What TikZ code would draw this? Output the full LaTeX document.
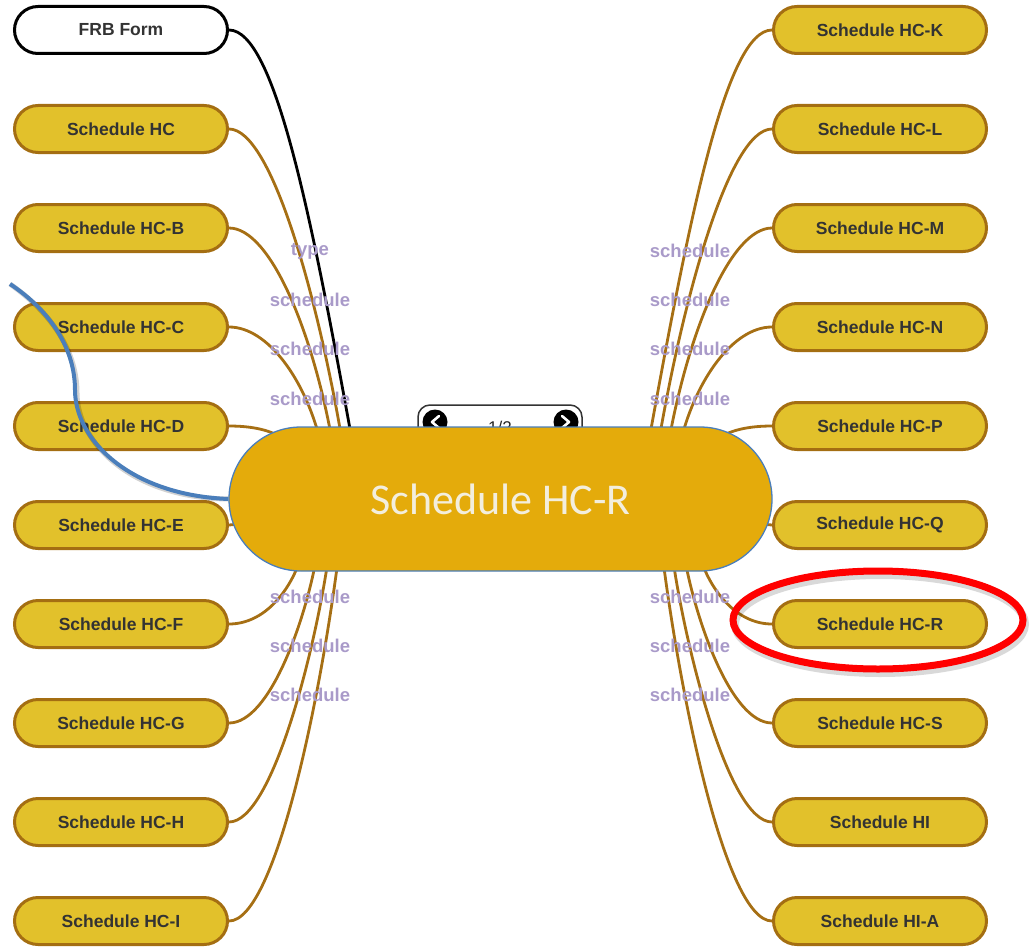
\documentclass[tikz,border=0pt]{standalone}
\usepackage{fontspec}
\setmainfont{Liberation Sans}
\newfontfamily\calibface{Carlito}
\usetikzlibrary{calc}
\definecolor{leaffill}{HTML}{E2C12B}
\definecolor{leafline}{HTML}{A46E12}
\definecolor{edgebrown}{HTML}{A66F14}
\definecolor{lblpurple}{HTML}{A99AC9}
\definecolor{corefill}{HTML}{E4AB0B}
\definecolor{coreline}{HTML}{4A7EBB}
\definecolor{coretext}{HTML}{F3EEDD}
\definecolor{textgray}{HTML}{333333}
\definecolor{markred}{HTML}{FF0000}
\tikzset{
  leaf/.style={draw=leafline, fill=leaffill, line width=3pt, rounded corners=23.5pt,
    minimum width=213pt, minimum height=47pt, inner sep=0pt, text=textgray,
    font=\fontsize{17.5}{20}\selectfont\bfseries},
  plainleaf/.style={leaf, draw=black, fill=white},
  core/.style={draw=coreline, fill=corefill, line width=1.3pt, rounded corners=72pt,
    minimum width=543pt, minimum height=144pt, inner sep=0pt, text=coretext,
    font=\calibface\fontsize{44}{50}\selectfont},
  link/.style={draw=edgebrown, line width=2.8pt},
  typelink/.style={draw=black, line width=2.8pt},
  rel/.style={text=lblpurple, font=\fontsize{18.5}{20}\selectfont\bfseries, inner sep=0pt},
  pager/.style={draw=black!80, fill=white, line width=1.5pt, rounded corners=12pt,
    minimum width=164pt, minimum height=40pt, inner sep=0pt},
  navbtn/.style={circle, fill=black, minimum size=25pt, inner sep=0pt},
}
\begin{document}
\begin{tikzpicture}[x=1pt,y=-1pt]
\useasboundingbox (0,0) rectangle (1033,947);

% ---------- leaf nodes, left column ----------
\node[plainleaf] (frb) at (121,30)  {FRB Form};
\node[leaf] (hc)  at (121,129) {Schedule HC};
\node[leaf] (hcb) at (121,228) {Schedule HC-B};
\node[leaf] (hcc) at (121,327) {Schedule HC-C};
\node[leaf] (hcd) at (121,426) {Schedule HC-D};
\node[leaf] (hce) at (121,525) {Schedule HC-E};
\node[leaf] (hcf) at (121,624) {Schedule HC-F};
\node[leaf] (hcg) at (121,723) {Schedule HC-G};
\node[leaf] (hch) at (121,822) {Schedule HC-H};
\node[leaf] (hci) at (121,921) {Schedule HC-I};

% ---------- leaf nodes, right column ----------
\node[leaf] (hck) at (880,30)  {Schedule HC-K};
\node[leaf] (hcl) at (880,129) {Schedule HC-L};
\node[leaf] (hcm) at (880,228) {Schedule HC-M};
\node[leaf] (hcn) at (880,327) {Schedule HC-N};
\node[leaf] (hcp) at (880,426) {Schedule HC-P};
\node[leaf] (hcq) at (880,525) {Schedule HC-Q};
\node[leaf] (hcr) at (880,624) {Schedule HC-R};
\node[leaf] (hcs) at (880,723) {Schedule HC-S};
\node[leaf] (hi)  at (880,822) {Schedule HI};
\node[leaf] (hia) at (880,921) {Schedule HI-A};

% ---------- ends of the links, hidden under the central node ----------
\coordinate (inFRB) at (352,440);
\coordinate (inHC)  at (342,440);
\coordinate (inHCB) at (332,440);
\coordinate (inHCC) at (320,440);
\coordinate (inHCD) at (285,440);
\coordinate (inHCE) at (262,522);
\coordinate (inHCF) at (300,560);
\coordinate (inHCG) at (316,560);
\coordinate (inHCH) at (328,560);
\coordinate (inHCI) at (338,560);
\coordinate (inHCK) at (649,440);
\coordinate (inHCL) at (659,440);
\coordinate (inHCM) at (669,440);
\coordinate (inHCN) at (681,440);
\coordinate (inHCP) at (716,440);
\coordinate (inHCQ) at (739,522);
\coordinate (inHCR) at (701,560);
\coordinate (inHCS) at (685,560);
\coordinate (inHI)  at (673,560);
\coordinate (inHIA) at (663,560);

% ---------- links, left ----------
\draw[typelink] (frb.east) .. controls (275,30) and (312,220) .. (inFRB);
\draw[link] (hc.east)  .. controls (272,129) and (318,300) .. (inHC);
\draw[link] (hcb.east) .. controls (270,228) and (312,330) .. (inHCB);
\draw[link] (hcc.east) .. controls (268,327) and (305,380) .. (inHCC);
\draw[link] (hcd.east) .. controls (252,426) and (272,430) .. (inHCD);
\draw[link] (hce.east) -- (inHCE);
\draw[link] (hcf.east) .. controls (265,624) and (290,590) .. (inHCF);
\draw[link] (hcg.east) .. controls (270,723) and (305,620) .. (inHCG);
\draw[link] (hch.east) .. controls (272,822) and (315,650) .. (inHCH);
\draw[link] (hci.east) .. controls (275,921) and (320,700) .. (inHCI);
% ---------- links, right ----------
\draw[link] (hck.west) .. controls (726,30) and (689,220) .. (inHCK);
\draw[link] (hcl.west) .. controls (729,129) and (683,300) .. (inHCL);
\draw[link] (hcm.west) .. controls (731,228) and (689,330) .. (inHCM);
\draw[link] (hcn.west) .. controls (733,327) and (696,380) .. (inHCN);
\draw[link] (hcp.west) .. controls (749,426) and (729,430) .. (inHCP);
\draw[link] (hcq.west) -- (inHCQ);
\draw[link] (hcr.west) .. controls (736,624) and (711,590) .. (inHCR);
\draw[link] (hcs.west) .. controls (731,723) and (696,620) .. (inHCS);
\draw[link] (hi.west)  .. controls (729,822) and (686,650) .. (inHI);
\draw[link] (hia.west) .. controls (726,921) and (681,700) .. (inHIA);

% ---------- pager above the central node ----------
\node[pager] (pg) at (500,425) {};
\node[navbtn] (prev) at (435,422) {};
\node[navbtn] (next) at (566,422) {};
\draw[white, line width=2.6pt, line cap=round, line join=round]
  ($(prev)+(4,-6)$) -- ($(prev)+(-3,0)$) -- ($(prev)+(4,6)$);
\draw[white, line width=2.6pt, line cap=round, line join=round]
  ($(next)+(-4,-6)$) -- ($(next)+(3,0)$) -- ($(next)+(-4,6)$);
\node[font=\fontsize{17}{19}\selectfont, text=black!85] (pgtext) at (500,427) {1/2};

% ---------- central node ----------
\node[core] (core) at (500.5,499) {Schedule HC-R};

% ---------- relation labels ----------
\node[rel] (l1)  at (310,251) {type};
\node[rel] (l2)  at (310,300) {schedule};
\node[rel] (l3)  at (310,349) {schedule};
\node[rel] (l4)  at (310,399) {schedule};
\node[rel] (l5)  at (310,597) {schedule};
\node[rel] (l6)  at (310,646) {schedule};
\node[rel] (l7)  at (310,695) {schedule};
\node[rel] (r1)  at (690,251) {schedule};
\node[rel] (r2)  at (690,300) {schedule};
\node[rel] (r3)  at (690,349) {schedule};
\node[rel] (r4)  at (690,399) {schedule};
\node[rel] (r5)  at (690,597) {schedule};
\node[rel] (r6)  at (690,646) {schedule};
\node[rel] (r7)  at (690,695) {schedule};

% ---------- blue callout stroke into the central node ----------
\coordinate (callstart) at (10,284);
\draw[black, opacity=0.18, line width=5pt, shift={(2,3)}]
  (callstart) .. controls (52,312) and (75,350) .. (75,390)
  .. controls (75,440) and (130,495) .. (core.west);
\draw[coreline, line width=4pt]
  (callstart) .. controls (52,312) and (75,350) .. (75,390)
  .. controls (75,440) and (130,495) .. (core.west);

% ---------- red highlight ring round Schedule HC-R ----------
\draw[black, opacity=0.15, line width=8pt] (880,624) ellipse [x radius=145, y radius=49];
\draw[markred, line width=7pt] (878,620) ellipse [x radius=145, y radius=49];
\end{tikzpicture}
\end{document}
